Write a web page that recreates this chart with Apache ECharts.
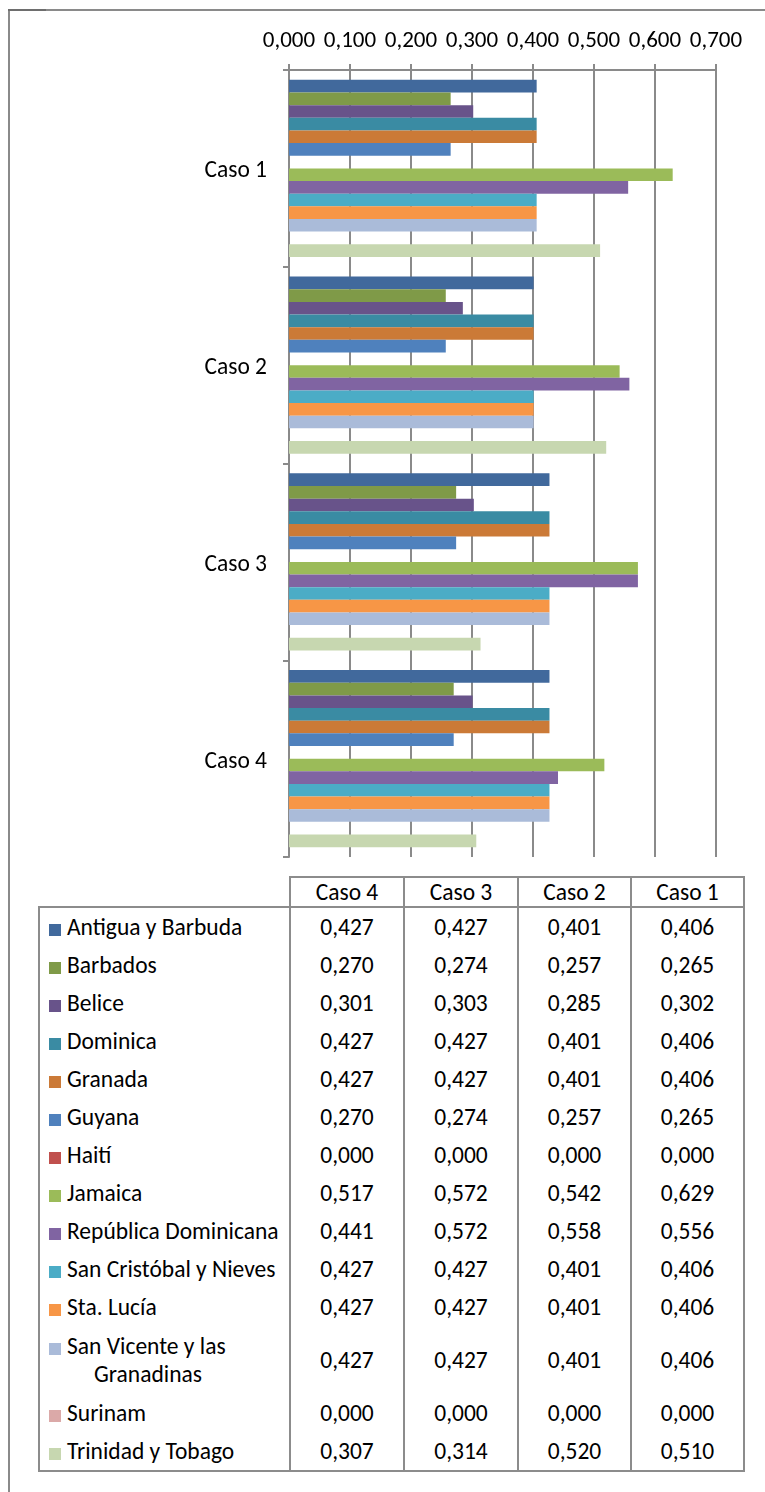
<!DOCTYPE html>
<html>
<head>
<meta charset="utf-8">
<script src="https://cdn.jsdelivr.net/npm/echarts@6/dist/echarts.min.js"></script>
<style>
  html, body { margin: 0; padding: 0; background: #fff; }
  body { width: 765px; height: 1492px; position: relative; overflow: hidden;
         font-family: Carlito, Lato, sans-serif; color: #000; }
  #frame { position: absolute; left: 8px; top: 9px; width: 800px; height: 1600px;
           border-left: 2px solid #8a8a8a; border-top: 2px solid #8a8a8a; }
  #corner { position: absolute; left: 8px; top: 9px; width: 38px; height: 2px; background: #6e6e6e; }
  #chart { position: absolute; left: 0; top: 0; width: 765px; height: 870px; }
  #tbl { position: absolute; left: 38px; top: 876px; border-collapse: collapse; table-layout: fixed;
         font-size: 23.5px; }
  #tbl td { border-left: 2px solid #8c8c8c; border-right: 2px solid #8c8c8c; padding: 0;
            text-align: center; height: 38px; }
  #tbl tr.head td { border-top: 2px solid #8c8c8c; border-bottom: 2px solid #8c8c8c; height: 24px; }
  #tbl tr.head td.blank { border-top: none; border-left: none; }
  #tbl tr.last td { border-bottom: 2px solid #8c8c8c; }
  #tbl td.name { text-align: left; white-space: nowrap; }
  #tbl td.name div { padding-left: 54px; text-indent: -45px; line-height: 28px; }
  #tbl td.name span.sq { display: inline-block; width: 12px; height: 12px; margin-right: 6px;
                         text-indent: 0; vertical-align: -1px; }
  #tbl tr.tall td { height: 68px; }
  #tbl tr.tall td.name { white-space: normal; }
</style>
</head>
<body>
<div id="frame"></div>
<div id="corner"></div>
<div id="chart"></div>
<table id="tbl"></table>
<script>
var categories = ['Caso 1', 'Caso 2', 'Caso 3', 'Caso 4'];
var countries = ['Antigua y Barbuda', 'Barbados', 'Belice', 'Dominica', 'Granada', 'Guyana', 'Haití',
  'Jamaica', 'República Dominicana', 'San Cristóbal y Nieves', 'Sta. Lucía',
  'San Vicente y las Granadinas', 'Surinam', 'Trinidad y Tobago'];
var colors = ['#41699c', '#7f9a48', '#68538a', '#3a8ba3', '#cb7a37', '#4f81bd', '#c0504d',
  '#9bbb59', '#8064a2', '#4bacc6', '#f79646', '#aabbd9', '#dba9a8', '#c7d7b0'];

// valores por país: Caso 1, Caso 2, Caso 3, Caso 4
var antigua = [0.406, 0.401, 0.427, 0.427];
var barbados = [0.265, 0.257, 0.274, 0.270];
var belice = [0.302, 0.285, 0.303, 0.301];
var dominica = [0.406, 0.401, 0.427, 0.427];
var granada = [0.406, 0.401, 0.427, 0.427];
var guyana = [0.265, 0.257, 0.274, 0.270];
var haiti = [0.000, 0.000, 0.000, 0.000];
var jamaica = [0.629, 0.542, 0.572, 0.517];
var repDominicana = [0.556, 0.558, 0.572, 0.441];
var sanCristobal = [0.406, 0.401, 0.427, 0.427];
var staLucia = [0.406, 0.401, 0.427, 0.427];
var sanVicente = [0.406, 0.401, 0.427, 0.427];
var surinam = [0.000, 0.000, 0.000, 0.000];
var trinidad = [0.510, 0.520, 0.314, 0.307];

var values = [antigua, barbados, belice, dominica, granada, guyana, haiti, jamaica,
  repDominicana, sanCristobal, staLucia, sanVicente, surinam, trinidad];

var fontFamily = 'Carlito, Lato, sans-serif';
function fmt(v) { return v.toFixed(3).replace('.', ','); }

var chart = echarts.init(document.getElementById('chart'));
var series = [];
for (var i = 0; i < countries.length; i++) {
  series.push({
    name: countries[i],
    type: 'bar',
    data: values[i],
    barGap: '0%',
    barCategoryGap: '10%',
    itemStyle: { color: colors[i] },
    silent: true
  });
}

chart.setOption({
  animation: false,
  textStyle: { fontFamily: fontFamily },
  grid: { left: 289, top: 70, width: 427, height: 787, containLabel: false },
  xAxis: {
    type: 'value',
    position: 'top',
    min: 0,
    max: 0.7,
    interval: 0.1,
    axisLine: { show: true, lineStyle: { color: '#8a8a8a', width: 2 } },
    axisTick: { show: true, length: 6, lineStyle: { color: '#8a8a8a', width: 2 } },
    splitLine: { show: true, lineStyle: { color: '#8a8a8a', width: 2 } },
    axisLabel: { fontSize: 23, color: '#000', margin: 17, formatter: fmt }
  },
  yAxis: {
    type: 'category',
    data: categories,
    inverse: true,
    axisLine: { show: true, lineStyle: { color: '#8a8a8a', width: 2 } },
    axisTick: { show: true, length: 6, lineStyle: { color: '#8a8a8a', width: 2 } },
    axisLabel: {
      color: '#000', margin: 22,
      formatter: '{c|{value}}',
      rich: { c: { fontSize: 23.5, color: '#000', fontFamily: fontFamily, padding: [6, 0, 0, 0] } }
    }
  },
  series: series
});

// tabla de datos
var cols = categories.slice().reverse();
var html = ['<colgroup><col style="width:251px"><col style="width:114px"><col style="width:114px">' +
  '<col style="width:113px"><col style="width:113px"></colgroup>'];
html.push('<tr class="head"><td class="blank"></td>');
cols.forEach(function (c) { html.push('<td>' + c + '</td>'); });
html.push('</tr>');
countries.forEach(function (name, i) {
  var cls = [];
  if (name.length > 24) cls.push('tall');
  if (i === countries.length - 1) cls.push('last');
  html.push('<tr class="' + cls.join(' ') + '"><td class="name"><div><span class="sq" style="background:' +
    colors[i] + '"></span>' + name + '</div></td>');
  cols.forEach(function (c) {
    html.push('<td>' + fmt(values[i][categories.indexOf(c)]) + '</td>');
  });
  html.push('</tr>');
});
document.getElementById('tbl').innerHTML = html.join('');
</script>
</body>
</html>
